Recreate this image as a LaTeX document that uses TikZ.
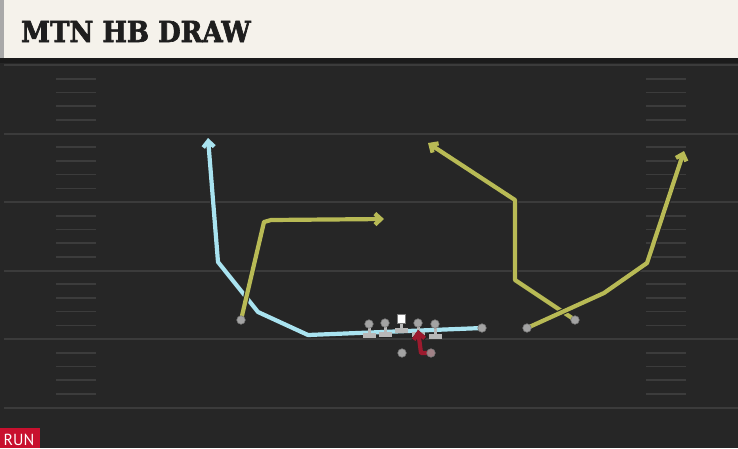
\documentclass[tikz,border=0pt]{standalone}
\usepackage{fontspec}
\usetikzlibrary{arrows.meta}
\newfontfamily\titlefont[FakeBold=2.2]{DejaVu Serif Condensed Bold}
\newfontfamily\runfont{PT Sans}
\definecolor{fieldc}{HTML}{262626}
\definecolor{bandc}{HTML}{1B1B1B}
\definecolor{creamc}{HTML}{F5F2EB}
\definecolor{stripc}{HTML}{A9A9A9}
\definecolor{yardc}{HTML}{3B3B3B}
\definecolor{hashc}{HTML}{3C3C3C}
\definecolor{bluec}{HTML}{A9E3F0}
\definecolor{ylwc}{HTML}{B8BA55}
\definecolor{redc}{HTML}{9C1A2E}
\definecolor{dotc}{HTML}{A3A3A3}
\definecolor{dotd}{HTML}{7A7A7A}
\definecolor{lmc}{HTML}{B8B8B8}
\definecolor{runc}{HTML}{C8102E}
\definecolor{titlec}{HTML}{1E1E1E}
\newcommand\routepath[2]{\draw[#1,outl] #2; \draw[#1] #2;}
\tikzset{
  yard/.style={draw=yardc, line width=2pt},
  hashmark/.style={draw=hashc, line width=1.6pt},
  routeB/.style={draw=bluec, line width=4.2pt, line join=round},
  routeY/.style={draw=ylwc, line width=4.2pt, line join=round},
  routeR/.style={draw=redc, line width=4.2pt, line join=round},
  outl/.style={draw=black!85, line width=6.2pt},
  tipped/.style={-{Straight Barb[length=6pt,width=11pt]}},
  dot/.style={circle, fill=dotc, draw=dotd, line width=0.6pt, inner sep=0pt, minimum size=8.5pt},
  blockbar/.style={fill=lmc},
}
\begin{document}
\begin{tikzpicture}[x=1pt,y=-1pt]
\useasboundingbox (0,0) rectangle (738,448);
% field
\fill[fieldc] (0,0) rectangle (738,448);
\fill[bandc] (0,58) rectangle (738,63);
% header
\fill[creamc] (0,0) rectangle (738,58);
\fill[stripc] (0,0) rectangle (4,58);
\node[anchor=base west, inner sep=0pt, text=titlec, font=\titlefont\fontsize{29}{29}\selectfont] (title) at (21,42) {MTN HB DRAW};
% yard lines
\foreach \y in {65,133.5,202,270.5,339,407.5} {\draw[yard] (4,\y) -- (738,\y);}
% hash marks
\foreach \k in {1,2,3,4,6,7,8,9,11,12,13,14,16,17,18,19,21,22,23,24} {
  \draw[hashmark] (56,65+13.7*\k) -- (96,65+13.7*\k);
  \draw[hashmark] (646,65+13.7*\k) -- (686,65+13.7*\k);
}
% players (positions)
\coordinate (te) at (482,328);
\coordinate (wl) at (241,320);
\coordinate (sl) at (575,320);
\coordinate (wr) at (527,328);
\coordinate (rb) at (431,353);
% waypoints
\coordinate (b1) at (308,335);
\coordinate (b2) at (258,312);
\coordinate (b3) at (218,262);
\coordinate (b4) at (208,138);
\coordinate (y11) at (264,222);
\coordinate (y12) at (271,220);
\coordinate (y13) at (384,219);
\coordinate (y21) at (515,280);
\coordinate (y22) at (515,200);
\coordinate (y23) at (428,143);
\coordinate (y31) at (604,293);
\coordinate (y32) at (647,263);
\coordinate (y33) at (684,151);
\coordinate (r1) at (421,353);
\coordinate (r2) at (418,330);
% routes
\routepath{routeB,tipped}{(te) -- (b1) -- (b2) -- (b3) -- (b4)}
\routepath{routeY,tipped}{(wl) -- (y11) -- (y12) -- (y13)}
\routepath{routeY,tipped}{(sl) -- (y21) -- (y22) -- (y23)}
\routepath{routeY,tipped}{(wr) -- (y31) -- (y32) -- (y33)}
% linemen block symbols
\fill[blockbar] (367.5,324) rectangle (370.5,334);
\fill[blockbar] (363,333) rectangle (375.5,337.5);
\fill[blockbar] (383.5,323) rectangle (386.5,333);
\fill[blockbar] (379,332) rectangle (391.5,336.5);
\fill[blockbar] (399.5,320) rectangle (402.5,329);
\fill[blockbar] (395,328) rectangle (408,332.5);
\fill[blockbar] (416.5,323) rectangle (419.5,333);
\fill[blockbar] (412,332) rectangle (424.5,336.5);
\fill[blockbar] (433.5,324) rectangle (436.5,335);
\fill[blockbar] (429,334) rectangle (441.5,338.5);
\node[dot] (lt) at (369,324) {};
\node[dot] (lg) at (385,323) {};
\node[draw=dotd, fill=white, line width=0.5pt, minimum size=8.5pt, inner sep=0pt] (c) at (401,318.5) {};
\node[dot] (rg) at (418,323) {};
\node[dot] (rt) at (435,324) {};
% red route
\routepath{routeR,tipped}{(rb) -- (r1) -- (r2)}
% skill players
\node[dot] (pte) at (te) {};
\node[dot] (pwl) at (wl) {};
\node[dot] (psl) at (sl) {};
\node[dot] (pwr) at (wr) {};
\node[dot] (qb) at (402,353) {};
\node[circle, fill=dotc!75!redc, draw=dotd, line width=0.6pt, inner sep=0pt, minimum size=8.5pt] (prb) at (rb) {};
% run label
\fill[runc] (0,428) rectangle (40,448);
\node[anchor=base west, inner sep=0pt, text=white, font=\runfont\fontsize{16}{16}\selectfont] (run) at (3.5,445) {RUN};
\end{tikzpicture}
\end{document}
